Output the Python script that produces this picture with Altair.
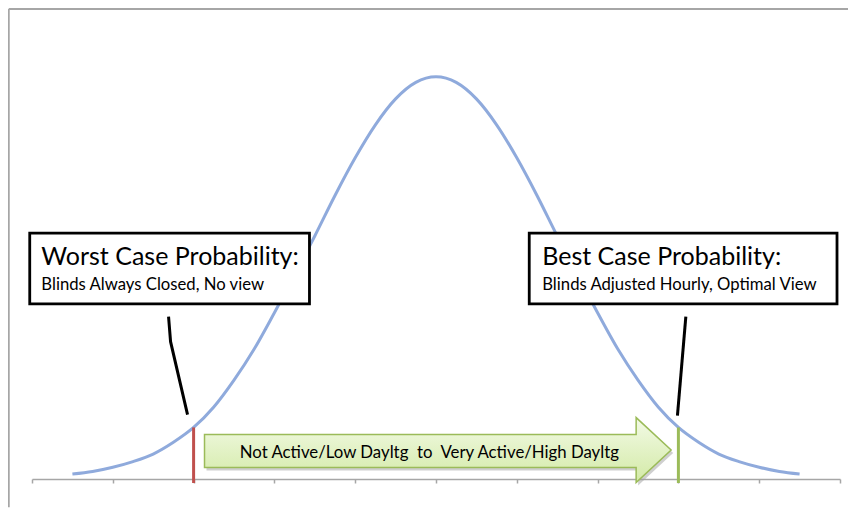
import altair as alt
import pandas as pd

# ---------------- data ----------------
tick_values = [0, 1, 2, 3, 4, 5, 6, 7, 8, 9, 10]

curve_x = [0.5, 0.75, 1.0, 1.25, 1.5, 1.75, 2.0, 2.25, 2.5, 2.75, 3.0, 3.25, 3.5,
           3.75, 4.0, 4.25, 4.5, 4.75, 5.0, 5.25, 5.5, 5.75, 6.0, 6.25, 6.5,
           6.75, 7.0, 7.25, 7.5, 7.75, 8.0, 8.25, 8.5, 8.75, 9.0, 9.25, 9.5]
curve_y = [1.05, 1.6, 2.5, 3.7, 5.3, 7.8, 10.95, 15.3, 21.0, 27.6, 35.3, 43.3, 51.6,
           60.2, 68.2, 75.2, 80.7, 84.2, 85.4, 84.2, 80.7, 75.2, 68.2, 60.2, 51.6,
           43.3, 35.3, 27.6, 21.0, 15.3, 10.95, 7.8, 5.3, 3.7, 2.5, 1.6, 1.05]

worst_x = 2
best_x = 8
marker_top = 10.95

box_titles = ["Worst Case Probability:", "Best Case Probability:"]
box_subtitles = ["Blinds Always Closed, No view", "Blinds Adjusted Hourly, Optimal View"]
arrow_label = "Not Active/Low Dayltg\u00a0 to\u00a0 Very Active/High Dayltg"

# ---------------- annotation placement (data coordinates) ----------------
box_x1 = [-0.028, 6.154]
box_x2 = [3.434, 9.963]
box_y1 = [52.2, 52.2]
box_y2 = [37.2, 37.2]
title_x = [0.116, 6.315]
title_y = [45.5, 45.5]
sub_y = [40.2, 40.2]

callout_group = ["L", "L", "L", "R", "R"]
callout_x = [1.690, 1.715, 1.925, 8.092, 7.988]
callout_y = [34.46, 29.16, 13.68, 34.46, 13.47]

arrow_x = [2.135, 7.477, 7.477, 7.910]
arrow_top = [9.44, 9.44, 13.04, 6.15]
arrow_bot = [2.44, 2.44, -0.74, 6.15]
arrow_text_x = 4.918
arrow_text_y = 4.56

# ---------------- layout ----------------
PLOT_W = 808
PLOT_H = 471

xs = alt.Scale(domain=[0, 10], nice=False, zero=False)
ys = alt.Scale(domain=[0, 100], nice=False, zero=False)
x_axis = alt.Axis(values=tick_values, labels=False, title=None, grid=False,
                  domainColor="#A6A6A6", domainWidth=1.5,
                  tickColor="#A6A6A6", tickWidth=1.5, tickSize=4)


def X(f):
    return alt.X(f, type="quantitative", scale=xs, axis=x_axis)


def Y(f):
    return alt.Y(f, type="quantitative", scale=ys, axis=None)


curve_df = pd.DataFrame({"x": curve_x, "y": curve_y})
box_df = pd.DataFrame({"x1": box_x1, "x2": box_x2, "y1": box_y1, "y2": box_y2,
                       "tx": title_x, "ty": title_y, "sy": sub_y,
                       "ttl": box_titles, "sbt": box_subtitles})
callout_df = pd.DataFrame({"g": callout_group, "x": callout_x, "y": callout_y})
arrow_df = pd.DataFrame({"x": arrow_x, "top": arrow_top, "bot": arrow_bot})
frame_h = pd.DataFrame({"x1": [-0.288], "x2": [10.2], "y": [99.8]})
frame_v = pd.DataFrame({"x": [-0.288], "y1": [99.8], "y2": [-6.0]})

curve = alt.Chart(curve_df).mark_line(
    color="#8FAADC", strokeWidth=3, interpolate="monotone"
).encode(x=X("x"), y=Y("y"))

frame1 = alt.Chart(frame_h).mark_rule(color="#A6A6A6", strokeWidth=2).encode(
    x=X("x1"), x2=alt.X2("x2"), y=Y("y")
)
frame2 = alt.Chart(frame_v).mark_rule(color="#A6A6A6", strokeWidth=2).encode(
    x=X("x"), y=Y("y1"), y2=alt.Y2("y2")
)

worst = alt.Chart(pd.DataFrame({"x": [worst_x], "t": [marker_top], "b": [-0.85]})).mark_rule(
    color="#C0504D", strokeWidth=3).encode(x=X("x"), y=Y("t"), y2=alt.Y2("b"))
best = alt.Chart(pd.DataFrame({"x": [best_x], "t": [marker_top], "b": [-0.85]})).mark_rule(
    color="#9BBB59", strokeWidth=3).encode(x=X("x"), y=Y("t"), y2=alt.Y2("b"))

callouts = alt.Chart(callout_df).mark_line(color="black", strokeWidth=3).encode(
    x=X("x"), y=Y("y"), detail="g:N"
)

arrow_shadow = alt.Chart(arrow_df).mark_area(
    color="#A0A0A0", opacity=0.5, xOffset=2, yOffset=3, y2Offset=3
).encode(x=X("x"), y=Y("top"), y2=alt.Y2("bot"))

arrow = alt.Chart(arrow_df).mark_area(
    color=alt.Gradient(gradient="linear",
                       stops=[alt.GradientStop(color="#F3FAE6", offset=0),
                              alt.GradientStop(color="#D3EAA6", offset=1)],
                       x1=0, x2=0, y1=0, y2=1),
    stroke="#9BBB59", strokeWidth=1.5
).encode(x=X("x"), y=Y("top"), y2=alt.Y2("bot"))

arrow_text = alt.Chart(pd.DataFrame({"x": [arrow_text_x], "y": [arrow_text_y],
                                     "t": [arrow_label]})).mark_text(
    font="Lato", fontSize=16.8, color="black", align="center", baseline="alphabetic"
).encode(x=X("x"), y=Y("y"), text="t:N")

boxes = alt.Chart(box_df).mark_rect(
    fill="white", stroke="black", strokeWidth=2.8
).encode(x=X("x1"), x2=alt.X2("x2"), y=Y("y1"), y2=alt.Y2("y2"))

titles = alt.Chart(box_df).mark_text(
    font="Lato", fontSize=25, color="black", align="left", baseline="alphabetic"
).encode(x=X("tx"), y=Y("ty"), text="ttl:N")

subs = alt.Chart(box_df).mark_text(
    font="Lato", fontSize=16.7, color="black", align="left", baseline="alphabetic"
).encode(x=X("tx"), y=Y("sy"), text="sbt:N")

chart = alt.layer(
    frame1, frame2, curve, worst, best, callouts, arrow_shadow, arrow, arrow_text,
    boxes, titles, subs
).properties(
    width=PLOT_W, height=PLOT_H,
    autosize=alt.AutoSizeParams(type="none"),
    padding={"left": 24, "top": 0, "right": 8, "bottom": 29},
).configure_view(stroke=None)

chart.save("out.html", embed_options={"renderer": "svg", "actions": False})
